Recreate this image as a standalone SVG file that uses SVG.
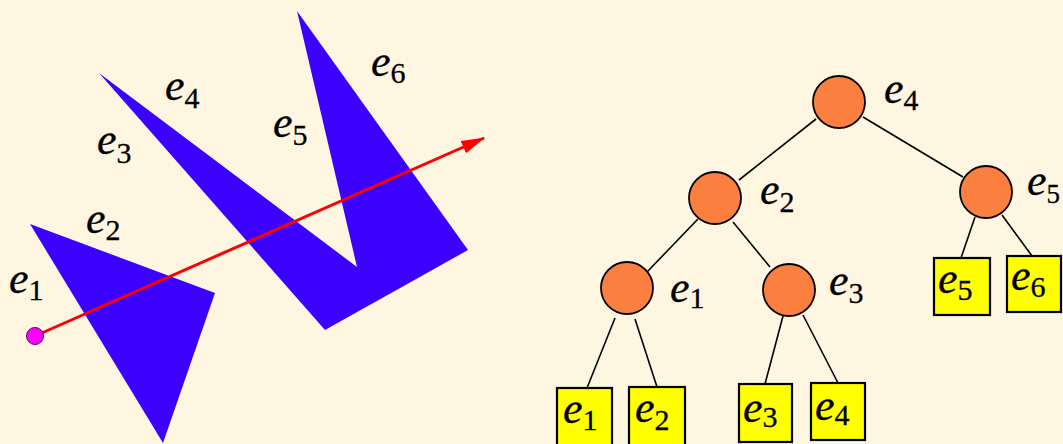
<svg xmlns="http://www.w3.org/2000/svg" width="1063" height="444" viewBox="0 0 1063 444">
<defs>
<style>
text{font-family:'Liberation Serif','Times New Roman',serif;font-size:44px;fill:#000;stroke:#000;stroke-width:0.3}
tspan.e{font-style:italic}
tspan.d{font-size:30px;font-style:normal}
.poly{fill:#3c00ff}
.edge{stroke:#000;stroke-width:1.6;fill:none}
.inner{fill:#fb8040;stroke:#000;stroke-width:1.8}
.leaf{fill:#ffff00;stroke:#000;stroke-width:2.2}
</style>
<marker id="arr" viewBox="0 0 18 10" refX="17" refY="5" markerWidth="8" markerHeight="4.5" orient="auto" markerUnits="strokeWidth">
<path d="M0,0 L18,5 L0,10 z" fill="#ff0000"/>
</marker>
</defs>
<rect width="1063" height="444" fill="#fef6e0"/>

<g id="scene">
<polygon class="poly" points="30,224 215,293 163,443"/>
<polygon class="poly" points="99,73 357,267 297,11 468,250 325,330"/>
<line x1="35" y1="336" x2="484" y2="138" stroke="#ff0000" stroke-width="3" marker-end="url(#arr)"/>
<circle cx="35" cy="336" r="8.5" fill="#ff00ff" stroke="#600060" stroke-width="1"/>
<text x="9" y="293"><tspan class="e">e</tspan><tspan class="d" dy="7">1</tspan></text>
<text x="86" y="233"><tspan class="e">e</tspan><tspan class="d" dy="7">2</tspan></text>
<text x="97" y="154"><tspan class="e">e</tspan><tspan class="d" dy="9">3</tspan></text>
<text x="165" y="100"><tspan class="e">e</tspan><tspan class="d" dy="8">4</tspan></text>
<text x="273" y="137"><tspan class="e">e</tspan><tspan class="d" dy="8">5</tspan></text>
<text x="371" y="76"><tspan class="e">e</tspan><tspan class="d" dy="7">6</tspan></text>
</g>

<g id="connectors">
<line class="edge" x1="816" y1="119" x2="739" y2="180"/>
<line class="edge" x1="863" y1="117" x2="963" y2="177"/>
<line class="edge" x1="698" y1="219" x2="647" y2="272"/>
<line class="edge" x1="733" y1="222" x2="770" y2="267"/>
<line class="edge" x1="615" y1="318" x2="587" y2="388"/>
<line class="edge" x1="635" y1="319" x2="657" y2="387"/>
<line class="edge" x1="783" y1="316" x2="765" y2="384"/>
<line class="edge" x1="803" y1="315" x2="838" y2="383"/>
<line class="edge" x1="975" y1="217" x2="961" y2="258"/>
<line class="edge" x1="1002" y1="215" x2="1032" y2="256"/>
</g>

<g id="n-e4"><circle class="inner" cx="839" cy="102" r="26"/><text x="884" y="103"><tspan class="e">e</tspan><tspan class="d" dy="7">4</tspan></text></g>
<g id="n-e2"><circle class="inner" cx="715" cy="198" r="26"/><text x="760" y="204"><tspan class="e">e</tspan><tspan class="d" dy="8">2</tspan></text></g>
<g id="n-e5"><circle class="inner" cx="986" cy="192" r="26"/><text x="1027" y="195"><tspan class="e">e</tspan><tspan class="d" dy="8" style="font-size:27px">5</tspan></text></g>
<g id="n-e1"><circle class="inner" cx="627" cy="288" r="26"/><text x="670" y="302"><tspan class="e">e</tspan><tspan class="d" dy="6">1</tspan></text></g>
<g id="n-e3"><circle class="inner" cx="789" cy="290" r="26"/><text x="829" y="295"><tspan class="e">e</tspan><tspan class="d" dy="8">3</tspan></text></g>

<g id="l-e1"><rect class="leaf" x="557" y="388" width="55" height="62"/><text x="563" y="423"><tspan class="e">e</tspan><tspan class="d" dy="7">1</tspan></text></g>
<g id="l-e2"><rect class="leaf" x="629" y="387" width="56" height="62"/><text x="635" y="422"><tspan class="e">e</tspan><tspan class="d" dy="8">2</tspan></text></g>
<g id="l-e3"><rect class="leaf" x="739" y="384" width="53" height="58"/><text x="743" y="422"><tspan class="e">e</tspan><tspan class="d" dy="5">3</tspan></text></g>
<g id="l-e4"><rect class="leaf" x="811" y="383" width="54" height="57"/><text x="815" y="420"><tspan class="e">e</tspan><tspan class="d" dy="5">4</tspan></text></g>
<g id="l-e5"><rect class="leaf" x="934" y="258" width="56" height="57"/><text x="938" y="293"><tspan class="e">e</tspan><tspan class="d" dy="7">5</tspan></text></g>
<g id="l-e6"><rect class="leaf" x="1007" y="256" width="54" height="56"/><text x="1011" y="290"><tspan class="e">e</tspan><tspan class="d" dy="7">6</tspan></text></g>
</svg>
